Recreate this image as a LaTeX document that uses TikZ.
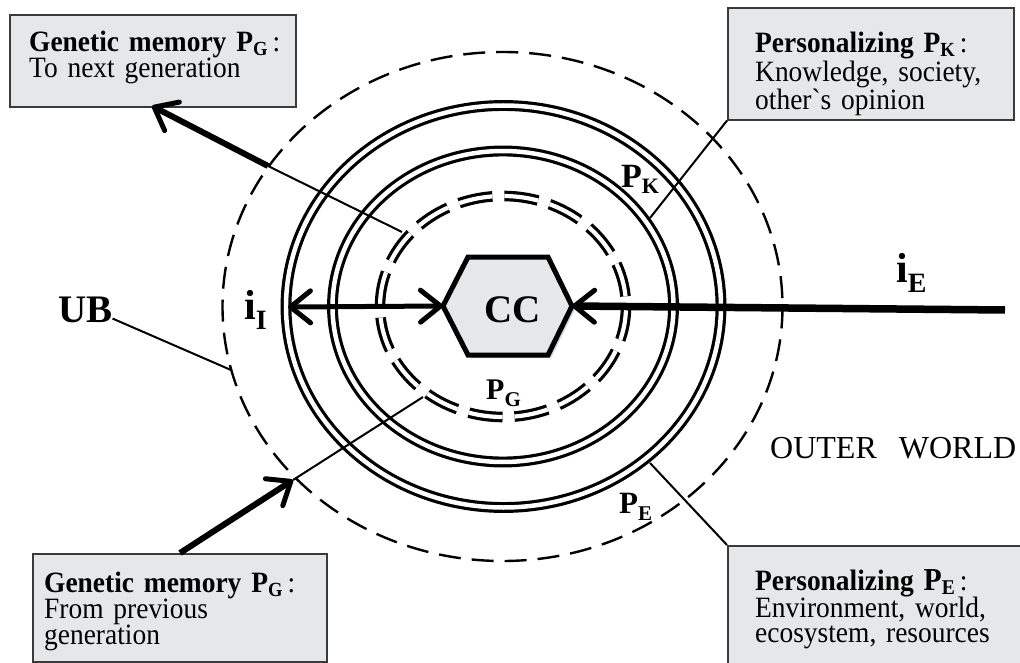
\documentclass[tikz,border=0pt]{standalone}
\usepackage{fontspec}
\setmainfont{Liberation Serif}
\newfontfamily\boxserif{Liberation Serif}[FakeStretch=0.93,Ligatures=TeX]
\newfontfamily\rawserif{Liberation Serif}[FakeStretch=0.93]
\usetikzlibrary{arrows.meta}
\definecolor{boxgray}{HTML}{E6E7E8}
\definecolor{boxline}{HTML}{3A3A3A}
\definecolor{hexshadow}{HTML}{D2D3D4}
\newcommand{\fs}[1]{\fontsize{#1}{#1}\selectfont}
% #1 main size, #2 main letter, #3 sub size, #4 sub letter, #5 drop
\newcommand{\sublbl}[5]{{\fs{#1}\textbf{#2}}\raisebox{-#5pt}{\fs{#3}\textbf{#4}}}
\begin{document}
\begin{tikzpicture}[x=1pt,y=-1pt,
  infobox/.style={draw=boxline, line width=1.6pt, fill=boxgray, inner sep=0pt, anchor=north west},
  txt/.style={anchor=base west, inner sep=0pt, align=left, text width=280pt},
  biglbl/.style={anchor=base west, inner sep=0pt},
  ring/.style={line width=3.2pt, double=white, double distance=4.5pt},
  dring/.style={line width=3.2pt, double=white, double distance=4.2pt, dash pattern=on 34pt off 12pt},
  ubring/.style={line width=2.4pt, dash pattern=on 22pt off 11pt},
  thinline/.style={line width=2pt},
  barb/.style={-{Straight Barb[length=20pt,width=32pt,line width=5pt,round]}},
  dblbarb/.style={{Straight Barb[length=20pt,width=32pt,line width=5pt,round]}-{Straight Barb[length=20pt,width=32pt,line width=5pt,round]}}
]
\useasboundingbox (0,0) rectangle (1020,663);
\clip (0,0) rectangle (1020,663);

% rings
\draw[ubring] (502.5,306.5) ellipse [x radius=280, y radius=254.5];
\draw[ring] (503.5,306.5) ellipse [x radius=217.5, y radius=201];
\draw[ring] (503,306.5) ellipse [x radius=170.5, y radius=155.5];
\draw[dring] (503,306.5) ellipse [x radius=123, y radius=110.5];

% named points on rings
\coordinate (pgTL) at (402,232);
\coordinate (ubTL) at (268,166);
\coordinate (pgBL) at (423,397);
\coordinate (ubBL) at (293,480);
\coordinate (ubL) at (231,370);
\coordinate (pkR) at (650,218);
\coordinate (peR) at (650,463);
\coordinate (peL) at (288,307);
\coordinate (outR) at (1005,310);

% boxes
\node[infobox, minimum width=286pt, minimum height=92pt] (boxGtop) at (9,14) {};
\node[infobox, minimum width=286pt, minimum height=112pt] (boxK) at (727,7) {};
\node[infobox, minimum width=294pt, minimum height=108pt] (boxGbot) at (32,553) {};
\node[infobox, minimum width=320pt, minimum height=140pt] (boxE) at (727,545) {};

% box texts
\node[txt, font=\boxserif\fontsize{29.5}{26}\selectfont] (tGtop) at (29,52)
  {\textbf{Genetic memory}\hspace{10pt}\sublbl{29.5}{P}{20}{G}{4}\,:\\To next generation};
\node[txt, font=\boxserif\fontsize{29.5}{28.5}\selectfont] (tK) at (755,53)
  {\textbf{Personalizing}\hspace{10pt}\sublbl{29.5}{P}{20}{K}{4}\,:\\Knowledge, society,\\other{\rawserif`}s opinion};
\node[txt, font=\boxserif\fontsize{29.5}{26}\selectfont] (tGbot) at (44,592)
  {\textbf{Genetic memory}\hspace{10pt}\sublbl{29.5}{P}{20}{G}{4}\,:\\From previous\\generation};
\node[txt, font=\boxserif\fontsize{29.5}{25}\selectfont] (tE) at (755,590)
  {\textbf{Personalizing}\hspace{10pt}\sublbl{32}{P}{21}{E}{4}\,:\\Environment, world,\\ecosystem, resources};

% big labels
\node[biglbl] (ub) at (58,322) {\fs{39}\textbf{UB}};
\node[biglbl] (iI) at (244,319) {\sublbl{42}{i}{28}{I}{10}};
\node[biglbl] (iE) at (896,282) {\sublbl{42}{i}{28}{E}{10}};
\node[biglbl] (pK) at (621,188) {\sublbl{34}{P}{22}{K}{6}};
\node[biglbl] (pG) at (486,399) {\sublbl{30}{P}{21}{G}{7}};
\node[biglbl] (pE) at (619,513) {\sublbl{31}{P}{21}{E}{7}};
\node[biglbl] (outer) at (770,458) {\fs{32}OUTER\hspace{22pt}WORLD};

% connectors (thin)
\draw[thinline] (ub.south east) ++(0,-4) coordinate (ubS) -- (ubL);
\draw[thinline] (pgTL) -- (ubTL);
\draw[thinline] (pgBL) -- (ubBL);
\draw[thinline] (boxK.south west) -- (pkR);
\draw[thinline] (boxE.north west) -- (peR);

% thick arrows to/from boxes
\coordinate (boxGtopTip) at (152,106);
\coordinate (boxGbotTop) at (180,553);
\draw[line width=6pt, barb] (ubTL) -- (boxGtopTip);
\draw[line width=6pt, barb] (boxGbotTop) -- (ubBL);

% hexagon CC
\coordinate (hexL) at (443,306);
\coordinate (hexR) at (572,306);
\fill[hexshadow] (446,309) -- (471,260) -- (551,260) -- (575,309) -- (551,358) -- (471,358) -- cycle;
\draw[line width=5pt, fill=boxgray, line join=miter] (hexL) -- (468,257) -- (548,257) -- (hexR) -- (548,355) -- (468,355) -- cycle;
\node[anchor=base, inner sep=0pt] (cc) at (513,322) {\fs{39}\textbf{CC}};

% information arrows
\draw[line width=5pt, dblbarb] (peL) -- (hexL);
\draw[line width=7.5pt, barb] (outR) -- (hexR);
\end{tikzpicture}
\end{document}
